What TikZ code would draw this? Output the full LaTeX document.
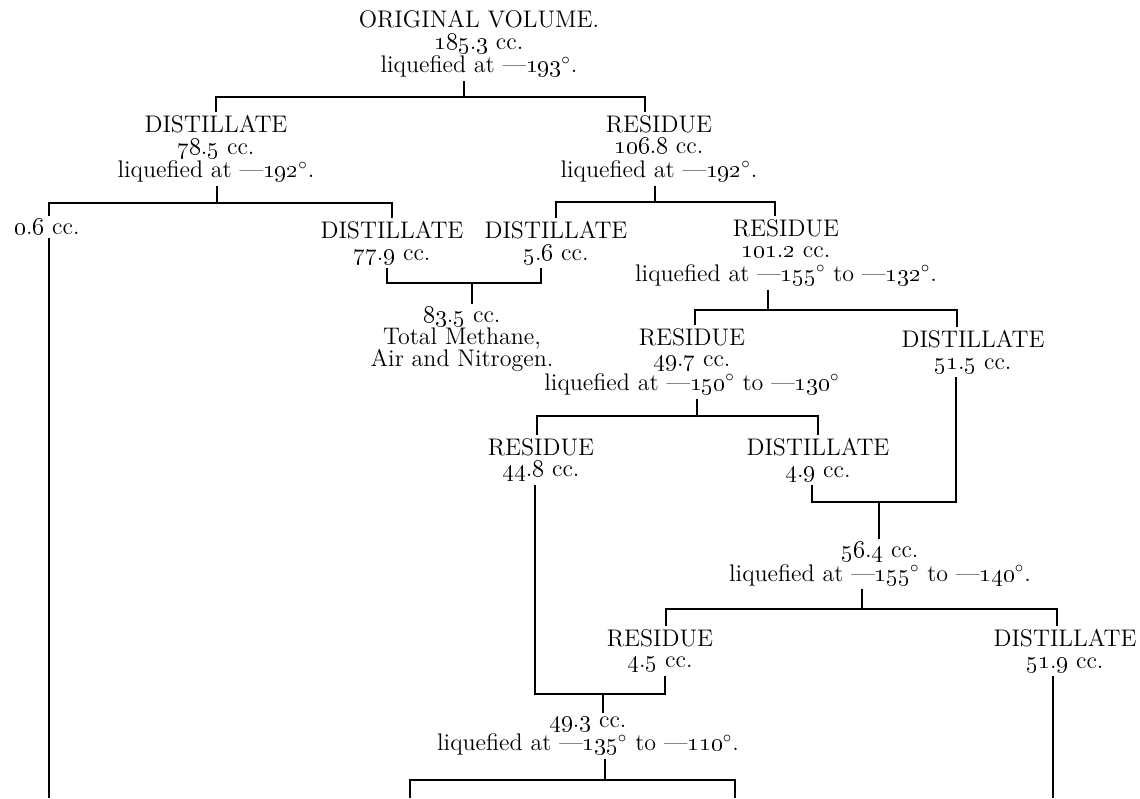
\documentclass[tikz,border=0pt]{standalone}
\usepackage{tikz}
\newcommand{\osn}[1]{\oldstylenums{#1}}
\newcommand{\dg}{$^{\circ}$}
\tikzset{lbl/.style={anchor=north, inner sep=1.5pt, align=center, font={\fontsize{12}{10.8}\selectfont\lineskiplimit=-10pt}}}
\tikzset{conn/.style={black, line width=0.75pt}}

\begin{document}
\begin{tikzpicture}[x=0.5pt,y=-0.5pt]
                \useasboundingbox (0,0) rectangle (1140,798);

                \node[lbl] (orig) at (479,7) {ORIGINAL VOLUME.\\ \osn{185}.\osn{3} cc.\\[1pt] liquefied at ---\osn{193}\dg.};
                \node[lbl] (d1) at (216,112) {DISTILLATE\\ \osn{78}.\osn{5} cc.\\[1pt] liquefied at ---\osn{192}\dg.};
                \node[lbl] (r1) at (659,112) {RESIDUE\\ \osn{106}.\osn{8} cc.\\[1pt] liquefied at ---\osn{192}\dg.};
                \node[lbl] (n06) at (47,216) {\osn{0}.\osn{6} cc.};
                \node[lbl] (d2) at (392,218) {DISTILLATE\\ \osn{77}.\osn{9} cc.};
                \node[lbl] (d3) at (556,218) {DISTILLATE\\ \osn{5}.\osn{6} cc.};
                \node[lbl] (r2) at (786,216) {RESIDUE\\ \osn{101}.\osn{2} cc.\\[1pt] liquefied at ---\osn{155}\dg{} to ---\osn{132}\dg.};
                \node[lbl] (tot) at (462,304) {\osn{83}.\osn{5} cc.\\ Total Methane,\\ Air and Nitrogen.};
                \node[lbl] (r3) at (692,325) {RESIDUE\\ \osn{49}.\osn{7} cc.\\[1pt] liquefied at ---\osn{150}\dg{} to ---\osn{130}\dg};
                \node[lbl] (d4) at (973,327) {DISTILLATE\\ \osn{51}.\osn{5} cc.};
                \node[lbl] (r4) at (541,435) {RESIDUE\\ \osn{44}.\osn{8} cc.};
                \node[lbl] (d5) at (818,435) {DISTILLATE\\ \osn{4}.\osn{9} cc.};
                \node[lbl] (n56) at (880,539) {\osn{56}.\osn{4} cc.\\[1pt] liquefied at ---\osn{155}\dg{} to ---\osn{140}\dg.};
                \node[lbl] (r5) at (660,626) {RESIDUE\\ \osn{4}.\osn{5} cc.};
                \node[lbl] (d6) at (1065,626) {DISTILLATE\\ \osn{51}.\osn{9} cc.};
                \node[lbl] (n49) at (588,713) {\osn{49}.\osn{3} cc.\\[1pt] liquefied at ---\osn{135}\dg{} to ---\osn{110}\dg.};

                \coordinate (j1) at (464,97);
                \coordinate (j2) at (217,203);
                \coordinate (j3) at (655,202);
                \coordinate (j4) at (472,283);
                \coordinate (j5) at (768,310);
                \coordinate (j6) at (697,416);
                \coordinate (j7) at (879,502);
                \coordinate (j8) at (862,609);
                \coordinate (j9) at (603,694);
                \coordinate (j10) at (605,780);
                \coordinate (cut0) at (49,798);
                \coordinate (cut1) at (410,798);
                \coordinate (cut2) at (735,798);
                \coordinate (cut3) at (1053,798);

                \draw[conn] (orig.south -| j1) -- (j1);
                \draw[conn] (d1.north) |- (j1) -| ([xshift=-7pt]r1.north);

                \draw[conn] (d1.south -| j2) -- (j2);
                \draw[conn] ([xshift=1pt]n06.north) |- (j2) -| (d2.north);
                \draw[conn] ([xshift=1pt]n06.south) -- (cut0);

                \draw[conn] (r1.south -| j3) -- (j3);
                \draw[conn] (d3.north) |- (j3) -| ([xshift=-5.5pt]r2.north);

                \draw[conn] ([xshift=-2.5pt]d2.south) |- (j4) -| ([xshift=-7.5pt]d3.south);
                \draw[conn] (j4) -- (tot.north -| j4);

                \draw[conn] (r2.south -| j5) -- (j5);
                \draw[conn] ([xshift=1.5pt]r3.north) |- (j5) -| ([xshift=-8pt]d4.north);

                \draw[conn] (r3.south -| j6) -- (j6);
                \draw[conn] ([xshift=-2pt]r4.north) |- (j6) -| (d5.north);

                \draw[conn] ([xshift=-3pt]d5.south) |- (j7) -| ([xshift=-8.5pt]d4.south);
                \draw[conn] (j7) -- (n56.north -| j7);

                \draw[conn] (n56.south -| j8) -- (j8);
                \draw[conn] ([xshift=3pt]r5.north) |- (j8) -| ([xshift=-4pt]d6.north);
                \draw[conn] (d6.south -| cut3) -- (cut3);

                \draw[conn] ([xshift=-3pt]r4.south) |- (j9) -| ([xshift=2.5pt]r5.south);
                \draw[conn] (j9) -- (n49.north -| j9);

                \draw[conn] (n49.south -| j10) -- (j10);
                \draw[conn] (cut1) |- (j10) -| (cut2);
\end{tikzpicture}
\end{document}
